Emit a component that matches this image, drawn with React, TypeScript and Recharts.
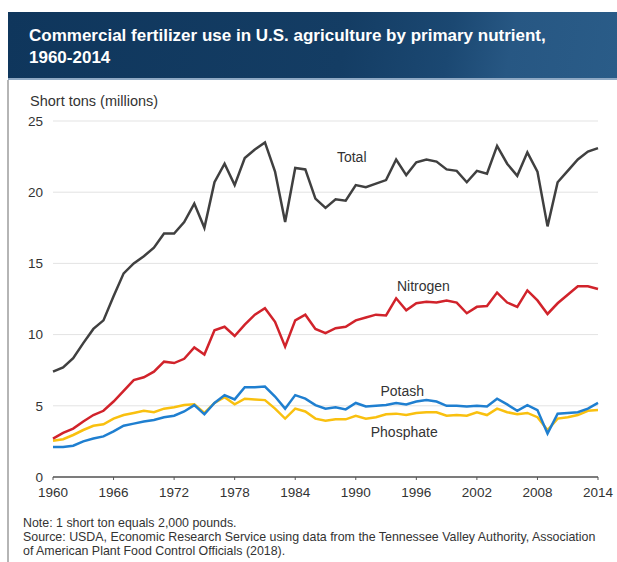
import { CartesianGrid, Line, LineChart, ReferenceDot, XAxis, YAxis } from 'recharts'

const YEARS = Array.from({ length: 55 }, (_, i) => 1960 + i)

const TOTAL = [
  7.4, 7.7, 8.35, 9.4, 10.4, 11.0, 12.7, 14.3, 15.0, 15.5,
  16.1, 17.1, 17.1, 17.9, 19.2, 17.5, 20.7, 22.0, 20.5, 22.4,
  23.0, 23.5, 21.45, 17.9, 21.7, 21.6, 19.55, 18.9, 19.5, 19.4,
  20.5, 20.35, 20.6, 20.85, 22.3, 21.2, 22.1, 22.3, 22.15, 21.6,
  21.5, 20.7, 21.5, 21.3, 23.25, 22.0, 21.15, 22.8, 21.45, 17.6,
  20.7, 21.5, 22.3, 22.85, 23.1,
]
const NITROGEN = [
  2.7, 3.1, 3.4, 3.9, 4.35, 4.65, 5.3, 6.05, 6.8, 7.0,
  7.4, 8.1, 8.0, 8.3, 9.1, 8.6, 10.3, 10.55, 9.9, 10.7,
  11.4, 11.85, 10.9, 9.15, 11.0, 11.4, 10.4, 10.1, 10.45, 10.55,
  11.0, 11.2, 11.4, 11.35, 12.55, 11.7, 12.2, 12.3, 12.25, 12.4,
  12.25, 11.5, 11.95, 12.0, 12.95, 12.25, 11.95, 13.1, 12.4, 11.45,
  12.2, 12.8, 13.4, 13.4, 13.2,
]
const PHOSPHATE = [
  2.55, 2.65, 2.95, 3.3, 3.6, 3.7, 4.1, 4.35, 4.5, 4.65,
  4.55, 4.8, 4.9, 5.05, 5.1, 4.5, 5.2, 5.6, 5.1, 5.5,
  5.45, 5.4, 4.8, 4.1, 4.8, 4.6, 4.1, 3.95, 4.05, 4.05,
  4.3, 4.1, 4.2, 4.4, 4.45, 4.35, 4.5, 4.55, 4.55, 4.3,
  4.35, 4.3, 4.55, 4.35, 4.8, 4.55, 4.4, 4.5, 4.2, 3.3,
  4.1, 4.2, 4.35, 4.65, 4.7,
]
const POTASH = [
  2.1, 2.1, 2.2, 2.5, 2.7, 2.85, 3.2, 3.6, 3.75, 3.9,
  4.0, 4.2, 4.3, 4.6, 5.05, 4.4, 5.2, 5.75, 5.45, 6.3,
  6.3, 6.35, 5.65, 4.8, 5.75, 5.5, 5.05, 4.8, 4.9, 4.75,
  5.2, 4.95, 5.0, 5.05, 5.2, 5.1, 5.3, 5.4, 5.3, 5.0,
  5.0, 4.95, 5.0, 4.95, 5.5, 5.1, 4.65, 5.05, 4.7, 3.05,
  4.45, 4.5, 4.55, 4.8, 5.2,
]
const X_TICKS = [1960, 1966, 1972, 1978, 1984, 1990, 1996, 2002, 2008, 2014]
const Y_TICKS = [0, 5, 10, 15, 20, 25]

const data = YEARS.map((year, i) => ({
  year,
  total: TOTAL[i],
  nitrogen: NITROGEN[i],
  phosphate: PHOSPHATE[i],
  potash: POTASH[i],
}))

const FONT = '"Liberation Sans", Arial, sans-serif'
const lbl = (value: string) => ({
  value,
  position: 'center' as const,
  fill: '#333',
  fontSize: 14,
  fontFamily: FONT,
})

export default function App() {
  return (
    <div style={{ position: 'absolute', left: 0, top: 0, width: 617, height: 562, background: '#fff', fontFamily: FONT, overflow: 'hidden' }}>
      <div style={{
        position: 'absolute', left: 8, top: 12, width: 609, height: 66,
        background: 'linear-gradient(100deg, #0f365c 0%, #143d64 55%, #1b4872 72%, #275783 82%, #2a5c88 100%)',
        borderBottom: '2px solid #8fa9c4',
      }}>
        <div style={{ position: 'absolute', left: 21, top: 13, color: '#fff', fontSize: 17, fontWeight: 'bold', lineHeight: '22px' }}>
          Commercial fertilizer use in U.S. agriculture by primary nutrient,<br />1960-2014
        </div>
      </div>
      <div style={{ position: 'absolute', left: 7, top: 80, width: 2, height: 482, background: '#b5b5b5' }} />
      <div style={{ position: 'absolute', left: 30, top: 93, fontSize: 14.5, color: '#333' }}>Short tons (millions)</div>
      <div style={{ position: 'absolute', left: 0, top: 0 }}>
        <LineChart width={617} height={562} data={data} margin={{ top: 121, right: 19, bottom: 55, left: 30 }}>
          <CartesianGrid horizontal vertical={false} stroke="#e3e3e3" strokeWidth={1} />
          <XAxis dataKey="year" type="number" domain={[1960, 2014]} ticks={X_TICKS} height={30}
            axisLine={{ stroke: '#555', strokeWidth: 1.5 }} tickLine={{ stroke: '#555' }} tickSize={3} tickMargin={7}
            tick={{ fontSize: 13.5, fill: '#333', fontFamily: FONT }} />
          <YAxis domain={[0, 25]} ticks={Y_TICKS} width={23} axisLine={false} tickLine={false} tickMargin={4}
            tick={{ fontSize: 13.5, fill: '#333', fontFamily: FONT }} />
          <Line dataKey="phosphate" stroke="#f9c00f" strokeWidth={2.5} dot={false} isAnimationActive={false} />
          <Line dataKey="potash" stroke="#1f7fd0" strokeWidth={2.5} dot={false} isAnimationActive={false} />
          <Line dataKey="nitrogen" stroke="#d1232b" strokeWidth={2.5} dot={false} isAnimationActive={false} />
          <Line dataKey="total" stroke="#404040" strokeWidth={2.5} dot={false} isAnimationActive={false} />
          <ReferenceDot x={1989.6} y={22.5} r={0} fill="none" stroke="none" label={lbl('Total')} />
          <ReferenceDot x={1996.7} y={13.4} r={0} fill="none" stroke="none" label={lbl('Nitrogen')} />
          <ReferenceDot x={1994.6} y={6.05} r={0} fill="none" stroke="none" label={lbl('Potash')} />
          <ReferenceDot x={1994.8} y={3.15} r={0} fill="none" stroke="none" label={lbl('Phosphate')} />
        </LineChart>
      </div>
      <div style={{ position: 'absolute', left: 23, top: 516, fontSize: 12.4, color: '#333', lineHeight: '14px' }}>
        Note: 1 short ton equals 2,000 pounds.<br />
        Source: USDA, Economic Research Service using data from the Tennessee Valley Authority, Association<br />
        of American Plant Food Control Officials (2018).
      </div>
    </div>
  )
}
